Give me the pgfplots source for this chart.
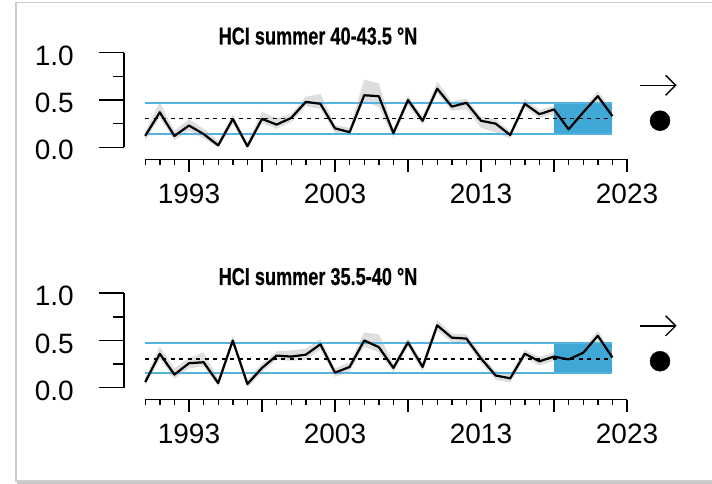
\documentclass[border=0pt]{standalone}
\usepackage{pgfplots}
\pgfplotsset{compat=1.18}
\usepackage{pgfplotstable}
\usepgfplotslibrary{fillbetween}
\usetikzlibrary{arrows.meta}
\usepackage{fontspec}
\setmainfont{Liberation Sans}
\newfontfamily\titlefont[FakeBold=0.6]{Liberation Sans Bold}
\definecolor{hcifill}{RGB}{64,168,214}
\definecolor{hciline}{RGB}{84,178,222}
\definecolor{bandgray}{RGB}{216,216,216}
\definecolor{framegray}{RGB}{205,205,205}

\pgfplotstableread{
yr v lo hi
1990 0.12 0.075 0.165
1991 0.37 0.315 0.475
1992 0.12 0.075 0.175
1993 0.23 0.175 0.295
1994 0.14 0.095 0.195
1995 0.02 0.000 0.065
1996 0.30 0.245 0.345
1997 0.01 0.000 0.055
1998 0.30 0.255 0.375
1999 0.24 0.195 0.305
2000 0.31 0.265 0.355
2001 0.48 0.435 0.535
2002 0.46 0.405 0.565
2003 0.20 0.155 0.235
2004 0.16 0.125 0.205
2005 0.55 0.485 0.715
2006 0.54 0.425 0.675
2007 0.15 0.105 0.195
2008 0.50 0.445 0.545
2009 0.28 0.235 0.325
2010 0.62 0.575 0.695
2011 0.43 0.385 0.485
2012 0.47 0.405 0.515
2013 0.28 0.205 0.325
2014 0.25 0.155 0.295
2015 0.13 0.095 0.165
2016 0.46 0.415 0.515
2017 0.35 0.305 0.395
2018 0.40 0.355 0.435
2019 0.19 0.155 0.235
2020 0.37 0.325 0.415
2021 0.54 0.485 0.595
2022 0.33 0.285 0.375
}\topdata

\pgfplotstableread{
yr v lo hi
1990 0.06 0.025 0.105
1991 0.36 0.305 0.435
1992 0.14 0.095 0.205
1993 0.26 0.205 0.315
1994 0.27 0.225 0.375
1995 0.05 0.015 0.095
1996 0.50 0.455 0.545
1997 0.04 0.005 0.085
1998 0.21 0.165 0.255
1999 0.34 0.295 0.385
2000 0.33 0.285 0.395
2001 0.35 0.295 0.415
2002 0.46 0.405 0.515
2003 0.16 0.115 0.205
2004 0.22 0.175 0.265
2005 0.50 0.435 0.585
2006 0.43 0.375 0.565
2007 0.21 0.165 0.255
2008 0.48 0.435 0.525
2009 0.22 0.175 0.265
2010 0.66 0.605 0.715
2011 0.53 0.485 0.575
2012 0.52 0.475 0.565
2013 0.31 0.265 0.355
2014 0.13 0.085 0.175
2015 0.10 0.055 0.145
2016 0.36 0.315 0.405
2017 0.28 0.235 0.325
2018 0.33 0.285 0.375
2019 0.30 0.235 0.345
2020 0.37 0.325 0.415
2021 0.55 0.495 0.605
2022 0.32 0.275 0.365
}\botdata

\pgfplotsset{hci/.style={
  anchor=south west, scale only axis,
  width=481.8bp, height=94.6bp,
  xmin=1990, xmax=2023, ymin=0, ymax=1,
  hide axis, clip=false,
}}

\newcommand\panelaxes[1]{%
  \draw[line width=1.4bp] (124,336.7) -- (124,431.3);
  \foreach \v in {0,0.5,1}{\draw[line width=1.4bp] (98.5,336.7+94.6*\v) -- (124,336.7+94.6*\v);}
  \foreach \v in {0.25,0.75}{\draw[line width=1.4bp] (113,336.7+94.6*\v) -- (124,336.7+94.6*\v);}
  \foreach \v/\t in {0/0.0,0.5/0.5,1/1.0}{\node[anchor=east,inner sep=0pt,font=\fontsize{28bp}{30bp}\selectfont] at (74,336.7+94.6*\v-3) {\t};}
  \draw[line width=1.4bp] (145.2,324.7) -- (627,324.7);
  \foreach \yr in {1990,...,2023}{\draw[line width=1.4bp] ({189+14.6*(\yr-1993)},324.7) -- ({189+14.6*(\yr-1993)},319);}
  \foreach \yr in {1993,1998,...,2023}{\draw[line width=1.4bp] ({189+14.6*(\yr-1993)},324.7) -- ({189+14.6*(\yr-1993)},312.4);}
  \foreach \yr in {1993,2003,2013,2023}{\node[anchor=base,inner sep=0pt,font=\fontsize{28bp}{30bp}\selectfont] at ({189+14.6*(\yr-1993)},280.7) {\yr};}
  \node[anchor=base,inner sep=0pt,xscale=0.74,font=\titlefont\fontsize{24.5bp}{27bp}\selectfont] at (318,439.5) {#1};
}

\begin{document}
\begin{tikzpicture}
\begin{scope}[x=1bp,y=1bp]
\useasboundingbox (0,0) rectangle (712,484);
\fill[gray!45] (17,0) rectangle (712,2.5);
\draw[framegray, line width=1.2bp] (713,3) -- (16,3) -- (16,481.3) -- (713,481.3);
\panelaxes{HCI summer 40-43.5 °N}
\begin{scope}[yshift=-240.5bp]
\panelaxes{HCI summer 35.5-40 °N}
\end{scope}
\end{scope}

% top panel
\begin{axis}[hci, at={(145.2bp,336.7bp)}]
\addplot[fill=hcifill, draw=none] coordinates {(2018,0.145) (2022,0.145) (2022,0.47) (2018,0.47)} -- cycle;
\addplot[draw=none, name path=hiA] table[x=yr,y=hi] {\topdata};
\addplot[draw=none, name path=loA] table[x=yr,y=lo] {\topdata};
\addplot[bandgray, opacity=0.85] fill between[of=hiA and loA];
\addplot[hciline, line width=2bp] coordinates {(1990,0.47) (2022,0.47)};
\addplot[hciline, line width=2bp] coordinates {(1990,0.145) (2022,0.145)};
\addplot[black, line width=1.6bp, dash pattern=on 4bp off 4.5bp] coordinates {(1990,0.305) (2022,0.305)};
\addplot[black, line width=2.2bp, line join=round] table[x=yr,y=v] {\topdata};
\addplot[black, line width=1.4bp, -{Straight Barb[length=10bp,width=20bp,line width=1.4bp]}] coordinates {(2023.9,0.655) (2026.4,0.655)};
\addplot[only marks, mark=*, mark size=10bp, black] coordinates {(2025.26,0.281)};
\end{axis}

% bottom panel
\begin{axis}[hci, at={(145.2bp,96.2bp)}]
\addplot[fill=hcifill, draw=none] coordinates {(2018,0.155) (2022,0.155) (2022,0.47) (2018,0.47)} -- cycle;
\addplot[draw=none, name path=hiB] table[x=yr,y=hi] {\botdata};
\addplot[draw=none, name path=loB] table[x=yr,y=lo] {\botdata};
\addplot[bandgray, opacity=0.85] fill between[of=hiB and loB];
\addplot[hciline, line width=2bp] coordinates {(1990,0.47) (2022,0.47)};
\addplot[hciline, line width=2bp] coordinates {(1990,0.155) (2022,0.155)};
\addplot[black, line width=1.6bp, dash pattern=on 4bp off 4.5bp] coordinates {(1990,0.305) (2022,0.305)};
\addplot[black, line width=2.2bp, line join=round] table[x=yr,y=v] {\botdata};
\addplot[black, line width=1.4bp, -{Straight Barb[length=10bp,width=20bp,line width=1.4bp]}] coordinates {(2023.9,0.655) (2026.4,0.655)};
\addplot[only marks, mark=*, mark size=10bp, black] coordinates {(2025.26,0.281)};
\end{axis}
\end{tikzpicture}
\end{document}
